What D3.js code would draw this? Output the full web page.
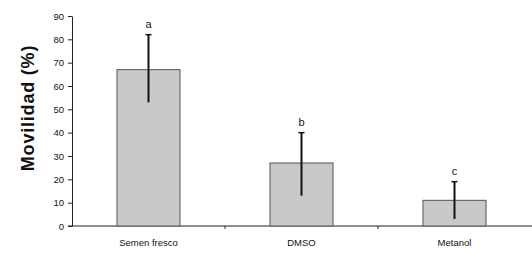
<!DOCTYPE html>
<html>
<head>
<meta charset="utf-8">
<script src="https://cdn.jsdelivr.net/npm/d3@7"></script>
<style>
  body { margin: 0; background: #fff; }
  svg { display: block; }
  .axis text { font-family: "Liberation Sans", Arial, sans-serif; font-size: 9.5px; fill: #111; }
</style>
</head>
<body>
<svg width="532" height="257"></svg>
<script>
const categories = ["Semen fresco", "DMSO", "Metanol"];
const means = [67, 27, 11];
const errUp = [82, 40, 19];
const errLow = [53, 13, 3];
const letters = ["a", "b", "c"];
const yTicks = [0, 10, 20, 30, 40, 50, 60, 70, 80, 90];

const svg = d3.select("svg");
const margin = { top: 16, right: 0, bottom: 31, left: 72 };
const width = 532, height = 257;
const innerWidth = width - margin.left - margin.right;
const innerHeight = height - margin.top - margin.bottom;

const g = svg.append("g").attr("transform", `translate(${margin.left},${margin.top})`);

const x = d3.scaleBand().domain(categories).range([0, innerWidth - 1]).paddingInner(0).paddingOuter(0);
const y = d3.scaleLinear().domain([0, 90]).range([innerHeight, 0]);
const barW = 63;

// y axis
const yAxis = g.append("g").attr("class", "axis")
  .call(d3.axisLeft(y).tickValues(yTicks).tickSize(4).tickSizeOuter(0).tickPadding(4));
yAxis.select(".domain").attr("stroke", "#222");
yAxis.selectAll(".tick line").attr("stroke", "#222");

// x axis line and boundary ticks
const xAxis = g.append("g").attr("class", "axis").attr("transform", `translate(0,${innerHeight})`);
xAxis.append("line").attr("x1", -4).attr("x2", innerWidth).attr("stroke", "#222").attr("stroke-width", 1.2);
xAxis.selectAll(".bound").data(categories.slice(1)).enter().append("line")
  .attr("x1", d => x(d)).attr("x2", d => x(d)).attr("y1", 0).attr("y2", 3)
  .attr("stroke", "#222");
xAxis.selectAll(".cat").data(categories).enter().append("text")
  .attr("x", d => x(d) + x.bandwidth() / 2)
  .attr("y", 20)
  .attr("text-anchor", "middle")
  .text(d => d);

// bars
g.selectAll(".bar").data(means).enter().append("rect")
  .attr("x", (d, i) => x(categories[i]) + x.bandwidth() / 2 - barW / 2)
  .attr("y", d => y(d))
  .attr("width", barW)
  .attr("height", d => innerHeight - y(d))
  .attr("fill", "#c9c9c9")
  .attr("stroke", "#555")
  .attr("stroke-width", 1);

// error bars
const eb = g.selectAll(".err").data(categories).enter().append("g");
eb.append("line")
  .attr("x1", d => x(d) + x.bandwidth() / 2).attr("x2", d => x(d) + x.bandwidth() / 2)
  .attr("y1", (d, i) => y(errUp[i])).attr("y2", (d, i) => y(errLow[i]))
  .attr("stroke", "#111").attr("stroke-width", 2);
eb.append("line")
  .attr("x1", d => x(d) + x.bandwidth() / 2 - 3).attr("x2", d => x(d) + x.bandwidth() / 2 + 3)
  .attr("y1", (d, i) => y(errUp[i])).attr("y2", (d, i) => y(errUp[i]))
  .attr("stroke", "#111").attr("stroke-width", 1.5);
eb.append("text")
  .attr("x", d => x(d) + x.bandwidth() / 2)
  .attr("y", (d, i) => y(errUp[i]) - 7)
  .attr("text-anchor", "middle")
  .attr("font-family", "Liberation Sans, Arial, sans-serif")
  .attr("font-size", 11)
  .attr("fill", "#111")
  .text((d, i) => letters[i]);

// y label
svg.append("text")
  .attr("transform", `translate(34,108) rotate(-90)`)
  .attr("text-anchor", "middle")
  .attr("font-family", "Liberation Sans, Arial, sans-serif")
  .attr("font-size", 18)
  .attr("font-weight", "bold")
  .attr("letter-spacing", 0.8)
  .attr("fill", "#111")
  .text("Movilidad (%)");
</script>
</body>
</html>
